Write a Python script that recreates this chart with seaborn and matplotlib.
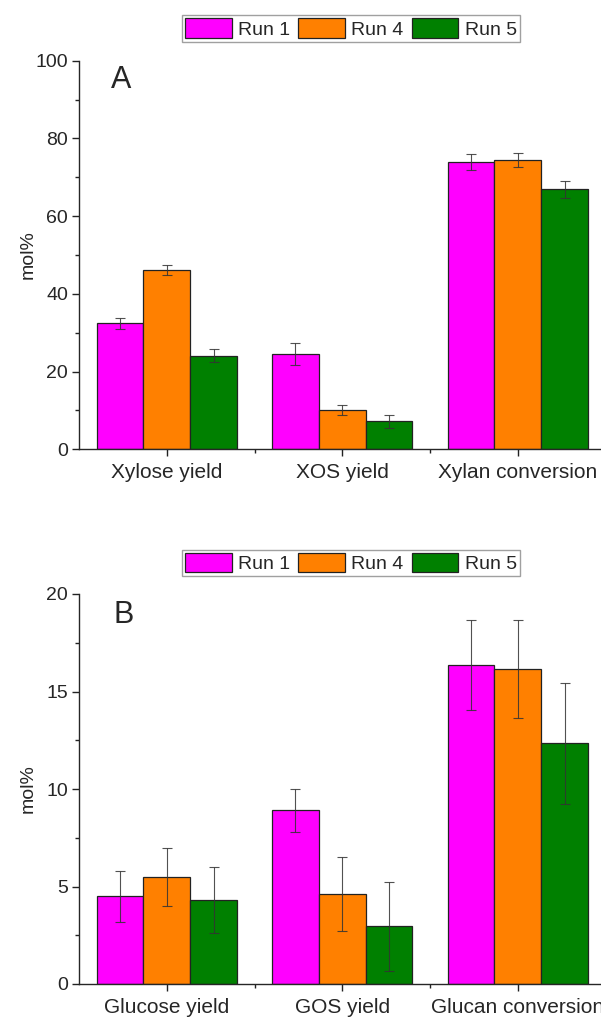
import numpy as np
import pandas as pd
import matplotlib
matplotlib.use("Agg")
import matplotlib.pyplot as plt
from matplotlib.ticker import MultipleLocator, FixedLocator
from matplotlib.patches import Patch
import seaborn as sns

# ---- data ----
runs = ["Run 1", "Run 4", "Run 5"]
colors = ["#FF00FF", "#FF8000", "#008000"]

cats_A = ["Xylose yield", "XOS yield", "Xylan conversion"]
run1_A = [32.4, 24.5, 74.0]
run4_A = [46.1, 10.1, 74.4]
run5_A = [24.1, 7.2, 66.9]
err1_A = [1.5, 2.8, 2.1]
err4_A = [1.3, 1.3, 1.8]
err5_A = [1.7, 1.6, 2.2]

cats_B = ["Glucose yield", "GOS yield", "Glucan conversion"]
run1_B = [4.5, 8.9, 16.35]
run4_B = [5.5, 4.6, 16.15]
run5_B = [4.3, 2.95, 12.35]
err1_B = [1.3, 1.1, 2.3]
err4_B = [1.5, 1.9, 2.5]
err5_B = [1.7, 2.3, 3.1]

sns.set_style("ticks")
plt.rcParams["font.family"] = ["Liberation Sans", "DejaVu Sans"]
plt.rcParams["axes.linewidth"] = 1.0

W, H = 601, 1017
fig = plt.figure(figsize=(W / 100, H / 100), dpi=100)

ax_left = 79 / W
ax_width = (W - 79) / W
xmax = (W - 79) / 175.5 - 0.5


def make_df(cats, vals):
    rows = []
    for r, v in zip(runs, vals):
        for c, y in zip(cats, v):
            rows.append({"cat": c, "run": r, "val": y})
    return pd.DataFrame(rows)


def panel(ax, cats, vals, errs, ymax, major, letter, letter_xy, leg_y):
    df = make_df(cats, vals)
    sns.barplot(data=df, x="cat", y="val", hue="run", hue_order=runs,
                order=cats, palette=colors, errorbar=None, width=0.8,
                edgecolor="#222222", linewidth=0.9, saturation=1, ax=ax)
    for cont, e, v in zip(ax.containers, errs, vals):
        xs = [b.get_x() + b.get_width() / 2 for b in cont]
        ax.errorbar(xs, v, yerr=e, fmt="none", ecolor="#333333", alpha=0.85,
                    elinewidth=0.8, capsize=3.3, capthick=0.8, zorder=5)
    if ax.get_legend() is not None:
        ax.get_legend().remove()
    ax.set_xlim(-0.5, xmax)
    ax.set_ylim(0, ymax)
    ax.yaxis.set_major_locator(MultipleLocator(major))
    ax.yaxis.set_minor_locator(MultipleLocator(major / 2))
    ax.xaxis.set_minor_locator(FixedLocator([0.5, 1.5]))
    sns.despine(ax=ax)
    ax.tick_params(axis="both", which="major", direction="out", length=5,
                   width=1.0, color="#222222")
    ax.tick_params(axis="both", which="minor", direction="out", length=3,
                   width=1.0, color="#222222")
    ax.tick_params(axis="y", which="major", labelsize=14, pad=3)
    ax.tick_params(axis="x", which="major", labelsize=15, pad=5)
    ax.set_xlabel("")
    ax.set_ylabel("mol%", fontsize=14)
    ax.yaxis.set_label_coords(-0.082, 0.5)
    fig.text(letter_xy[0], letter_xy[1], letter, fontsize=22,
             ha="left", va="baseline")
    handles = [Patch(facecolor=c, edgecolor="#222222", linewidth=0.9)
               for c in colors]
    leg = fig.legend(handles, runs, loc="center",
                     bbox_to_anchor=(351 / W, leg_y), ncol=3, fontsize=14,
                     frameon=True, fancybox=False, shadow=False,
                     handlelength=2.4, handleheight=1.15, handletextpad=0.32,
                     columnspacing=0.42, borderpad=0.15, borderaxespad=0)
    leg.get_frame().set_edgecolor("#888888")
    leg.get_frame().set_linewidth(1.0)


axA = fig.add_axes([ax_left, 1 - 449.3 / H, ax_width, (449.3 - 60.7) / H])
panel(axA, cats_A, [run1_A, run4_A, run5_A], [err1_A, err4_A, err5_A],
      100, 20, "A", (111 / W, 1 - 88.3 / H), 1 - 28.5 / H)

axB = fig.add_axes([ax_left, 1 - 984 / H, ax_width, (984 - 594) / H])
panel(axB, cats_B, [run1_B, run4_B, run5_B], [err1_B, err4_B, err5_B],
      20, 5, "B", (113 / W, 1 - 623.3 / H), 1 - 563.3 / H)

fig.savefig("out.png", dpi=100)
